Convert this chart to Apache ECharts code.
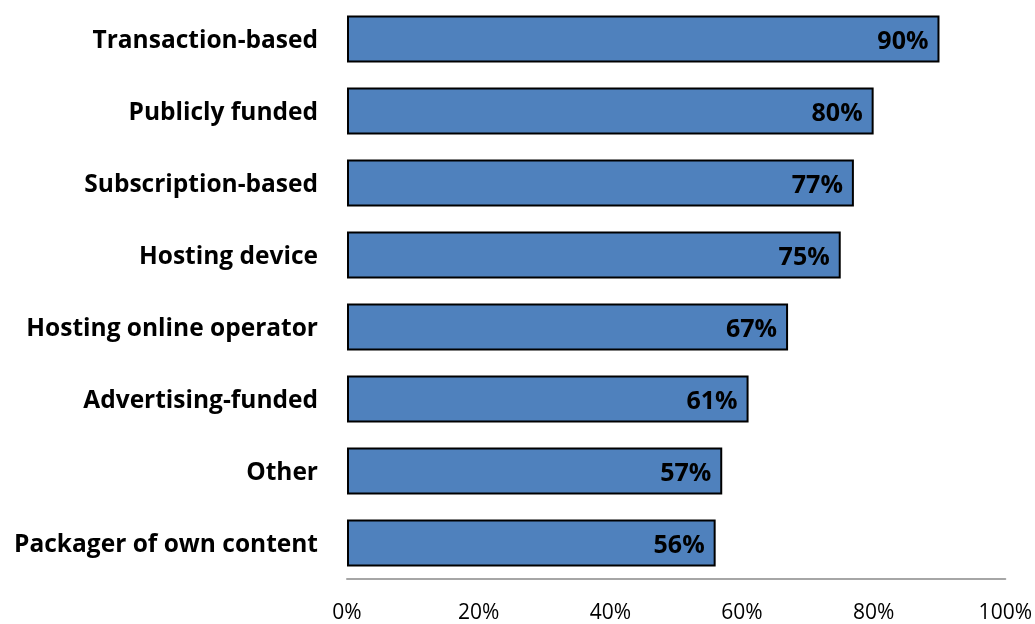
<!DOCTYPE html>
<html><head><meta charset="utf-8">
<script src="https://cdn.jsdelivr.net/npm/echarts@6/dist/echarts.min.js"></script>
<style>html,body{margin:0;padding:0;background:#fff}#c{width:1035px;height:624px}</style>
</head><body><div id="c"></div>
<script>
const categories = ["Transaction-based","Publicly funded","Subscription-based","Hosting device","Hosting online operator","Advertising-funded","Other","Packager of own content"];
const values = [90,80,77,75,67,61,57,56];
const xTicks = [0,20,40,60,80,100];

const chart = echarts.init(document.getElementById('c'));
chart.setOption({
  animation:false,
  grid:{left:347,right:27,top:3,bottom:44,containLabel:false},
  xAxis:{type:'value',min:0,max:100,interval:20,
    axisLine:{show:true,lineStyle:{color:'#a6a6a6',width:2}},axisTick:{show:false},splitLine:{show:false},
    axisLabel:{formatter:v=>v+'%',fontFamily:'Open Sans',fontSize:21,color:'#000',margin:24}},
  yAxis:{type:'category',data:categories,inverse:true,
    axisLine:{show:false},axisTick:{show:false},
    axisLabel:{fontFamily:'Open Sans',fontWeight:'bold',fontSize:24.5,color:'#000',margin:29,
      formatter:v=>'{a|'+v+'}',rich:{a:{fontFamily:'Open Sans',fontWeight:'bold',fontSize:24.5,color:'#000',padding:[5,0,0,0]}}}},
  series:[{type:'bar',data:values,barWidth:'65%',
    itemStyle:{color:'#4F81BD',borderColor:'#000',borderWidth:2},
    label:{show:true,position:'insideRight',distance:11,offset:[0,3],formatter:p=>p.value+'%',
      fontFamily:'Open Sans',fontWeight:'bold',fontSize:25,color:'#000'}
  }]
});
</script></body></html>
